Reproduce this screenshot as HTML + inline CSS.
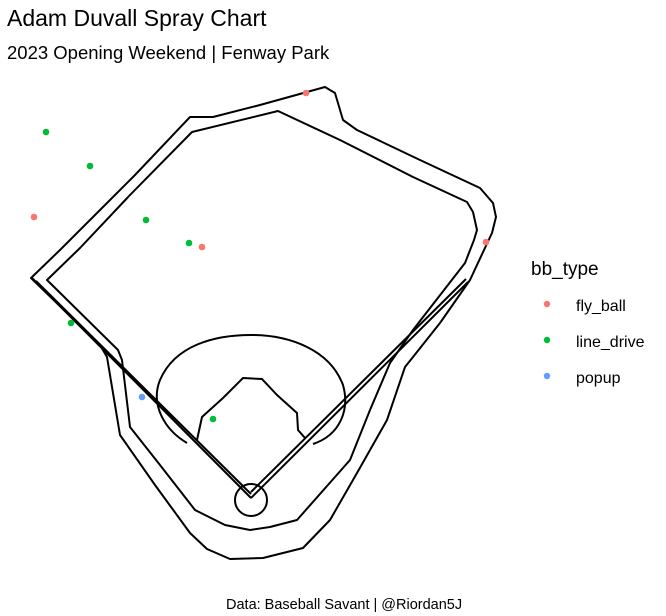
<!DOCTYPE html>
<html><head><meta charset="utf-8"><style>
body{margin:0;background:#fff;}
svg{display:block;font-family:"Liberation Sans",sans-serif;}
</style></head><body>
<svg width="666" height="616" viewBox="0 0 666 616">
<rect x="0" y="0" width="666" height="616" fill="#fff"/>
<text x="7" y="26" font-size="23" fill="#000">Adam Duvall Spray Chart</text>
<text x="7" y="59" font-size="18.5" fill="#000">2023 Opening Weekend | Fenway Park</text>
<g fill="none" stroke="#000" stroke-width="2" stroke-linejoin="round">
<path d="M31,278 L60,250 L100,210 L135,175 L190,117 L213,117 L260,105 L325,87 L335,93 L343,120 L357,130 L420,160 L480,188 L493,203 L496,217 L492,233 L484,250 L470,280 L440,323 L413,357 L405,367 L387,420 L357,473 L330,520 L303,548 L263,558 L230,559 L207,549 L190,533 L155,485 L120,435 L107,357 L100,345 Z"/>
<path d="M47,280 L80,248 L130,195 L192,132 L278,111 L340,140 L413,177 L467,202 L473,212 L477,230 L474,240 L465,263 L413,330 L390,363 L370,410 L350,460 L297,520 L270,527 L250,530 L225,525 L195,510 L160,465 L130,427 L122,360 L118,350 Z"/>
<path d="M187,443 C165,430 150,405 160,380 C175,345 215,335 251,335 C290,335 330,350 343,385 C350,410 340,435 313,444"/>
<path d="M197,440 L202,417 L223,398 L243,378 L262,379 L277,395 L297,413 L298,430 L305,438"/>
<circle cx="251" cy="500" r="16"/>
<path d="M32,278 L251,498 M36,281 L251,494"/>
<path d="M251,498 L468,282 M251,492 L466,279"/>
</g>
<g id="points"></g>
<g>
<text x="531" y="275" font-size="19" fill="#000">bb_type</text>
<circle cx="547" cy="304" r="3.2" fill="#F8766D"/>
<text x="576" y="311" font-size="16">fly_ball</text>
<circle cx="547" cy="340" r="3.2" fill="#00BA38"/>
<text x="576" y="347" font-size="16">line_drive</text>
<circle cx="547" cy="376" r="3.2" fill="#619CFF"/>
<text x="576" y="383" font-size="16">popup</text>
</g>
<text x="226" y="609" font-size="14.5" fill="#000">Data: Baseball Savant | @Riordan5J</text>
</svg>
<script>
const flyX=[28,-108,-24,118];
const flyY=[202.5,140.5,125.5,128];
const lineX=[-102,-80,-52,-30.5,-89.5,-18.5];
const lineY=[183,166,139,127.5,87.5,39.5];
const popX=[-54];
const popY=[50.5];
function sx(v){return 250+v*2;}
function sy(v){return 498-v*2;}
const g=document.getElementById('points');
function draw(xs,ys,color,name){
  xs.forEach(function(x,i){
    const c=document.createElementNS('http://www.w3.org/2000/svg','circle');
    c.setAttribute('cx',sx(x));
    c.setAttribute('cy',sy(ys[i]));
    c.setAttribute('r',3.3);
    c.setAttribute('fill',color);
    
    
    g.appendChild(c);
  });
}
draw(flyX,flyY,'#F8766D','fly-ball-point');
draw(lineX,lineY,'#00BA38','line-drive-point');
draw(popX,popY,'#619CFF','popup-point');
</script>
</body></html>
